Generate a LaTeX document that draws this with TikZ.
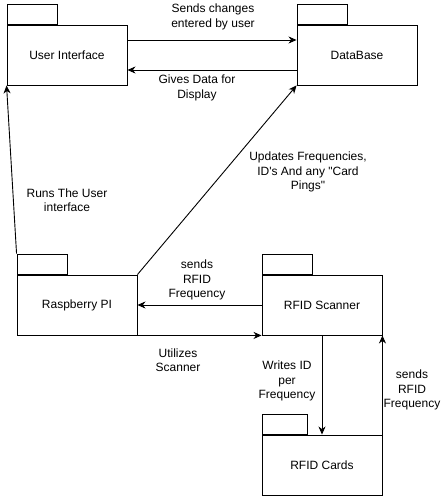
\documentclass[tikz,border=0pt]{standalone}
\usepackage{fontspec}
\newfontfamily\lsans{Liberation Sans}
\usetikzlibrary{arrows.meta}
\begin{document}
\begin{tikzpicture}[x=1pt,y=-1pt,
  pkg/.style={draw, line width=0.9pt, minimum width=120pt, minimum height=60pt, inner sep=0pt, font=\lsans\fontsize{12}{14.5}\selectfont},
  tabbox/.style={draw, line width=0.9pt, minimum width=50pt, minimum height=20pt, inner sep=0pt, anchor=south west},
  arr/.style={draw, line width=0.9pt, -{Stealth[length=8pt,width=7pt,inset=2.5pt]}},
  lbl/.style={align=center, inner sep=0pt, font=\lsans\fontsize{12}{14.5}\selectfont}]
\useasboundingbox[fill=white] (0,0) rectangle (443,496);
% packages
\node[pkg] (ui) at (67,55) {User Interface};
\node[tabbox] (uitab) at (ui.north west) {};
\node[pkg] (db) at (357,55) {DataBase};
\node[tabbox] (dbtab) at (db.north west) {};
\node[pkg] (rpi) at (77,305) {Raspberry PI};
\node[tabbox] (rpitab) at (rpi.north west) {};
\node[pkg] (scan) at (322,305) {RFID Scanner};
\node[tabbox] (scantab) at (scan.north west) {};
\node[pkg] (cards) at (322,465) {RFID Cards};
\node[tabbox, minimum width=45pt] (cardstab) at (cards.north west) {};
% connectors
\draw[arr] ([yshift=15pt]ui.east) -- ([yshift=15pt]db.west);
\draw[arr] ([yshift=-15pt]db.west) -- ([yshift=-15pt]ui.east);
\draw[arr] (rpitab.north west) -- (ui.south west);
\draw[arr] (rpi.north east) -- (db.south west);
\draw[arr] (scan.west) -- (rpi.east);
\draw[arr] (rpi.south east) -- (scan.south west);
\draw[arr] (scan.south) -- (cards.north);
\draw[arr] (cards.north east) -- (scan.south east);
% labels
\node[lbl] (l1) at (213,17) {Sends changes\\entered by user};
\node[lbl] (l2) at (197,88) {Gives Data for\\Display};
\node[lbl] (l3) at (67,200) {Runs The User\\interface};
\node[lbl] (l4) at (308,172) {Updates Frequencies,\\ID's And any "Card\\Pings"};
\node[lbl] (l5) at (197,280) {sends\\RFID\\Frequency};
\node[lbl] (l6) at (178,360) {Utilizes\\Scanner};
\node[lbl] (l7) at (287,381) {Writes ID\\per\\Frequency};
\node[lbl] (l8) at (412,390) {sends\\RFID\\Frequency};
\end{tikzpicture}
\end{document}
